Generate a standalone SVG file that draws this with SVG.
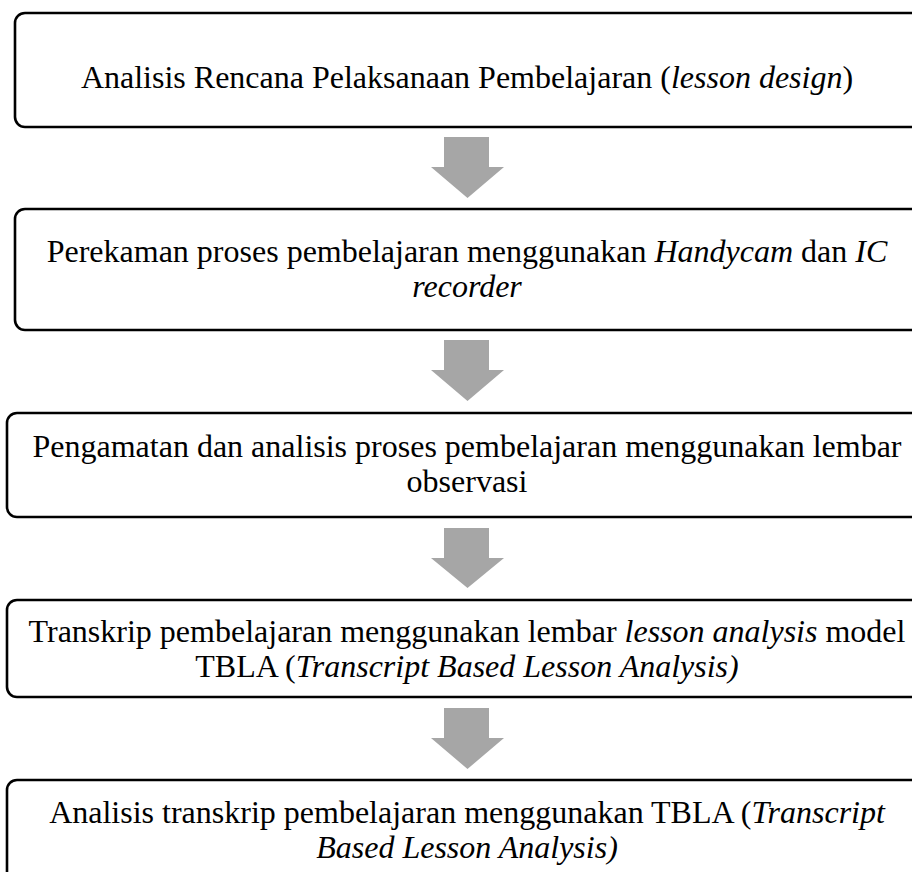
<svg xmlns="http://www.w3.org/2000/svg" width="912" height="872" viewBox="0 0 912 872">
<style>
.box{fill:#ffffff;stroke:#000000;stroke-width:2.6}
.t{font-family:"Liberation Serif","Times New Roman",serif;font-size:32px;fill:#000000;text-anchor:middle}
.i{font-style:italic}
.arr{fill:#a6a6a6;stroke:none}
</style>
<rect width="912" height="872" fill="#ffffff"/>
<g id="connectors">
<polygon class="arr" points="444,137 489,137 489,167 504,167 467.5,198 431,167 444,167"/>
<polygon class="arr" points="444,340 489,340 489,370 504,370 467.5,401 431,370 444,370"/>
<polygon class="arr" points="444,528 489,528 489,558 504,558 467.5,588 431,558 444,558"/>
<polygon class="arr" points="444,708 489,708 489,738 504,738 467.5,769 431,738 444,738"/>
</g>
<g id="node1">
<rect class="box" x="15" y="13" width="915" height="114" rx="10"/>
<text class="t" x="467" y="88">Analisis Rencana Pelaksanaan Pembelajaran (<tspan class="i">lesson design</tspan>)</text>
</g>
<g id="node2">
<rect class="box" x="15" y="209" width="915" height="121" rx="10"/>
<text class="t" x="467" y="262">Perekaman proses pembelajaran menggunakan <tspan class="i">Handycam</tspan> dan <tspan class="i">IC</tspan></text>
<text class="t i" x="467" y="297">recorder</text>
</g>
<g id="node3">
<rect class="box" x="7" y="413" width="923" height="104" rx="10"/>
<text class="t" x="467" y="457">Pengamatan dan analisis proses pembelajaran menggunakan lembar</text>
<text class="t" x="467" y="492">observasi</text>
</g>
<g id="node4">
<rect class="box" x="7" y="600" width="923" height="97" rx="10"/>
<text class="t" x="467" y="642">Transkrip pembelajaran menggunakan lembar <tspan class="i">lesson analysis</tspan> model</text>
<text class="t" x="467" y="677">TBLA (<tspan class="i">Transcript Based Lesson Analysis)</tspan></text>
</g>
<g id="node5">
<rect class="box" x="7" y="780" width="923" height="120" rx="10"/>
<text class="t" x="467" y="823">Analisis transkrip pembelajaran menggunakan TBLA (<tspan class="i">Transcript</tspan></text>
<text class="t i" x="467" y="858">Based Lesson Analysis)</text>
</g>
</svg>
